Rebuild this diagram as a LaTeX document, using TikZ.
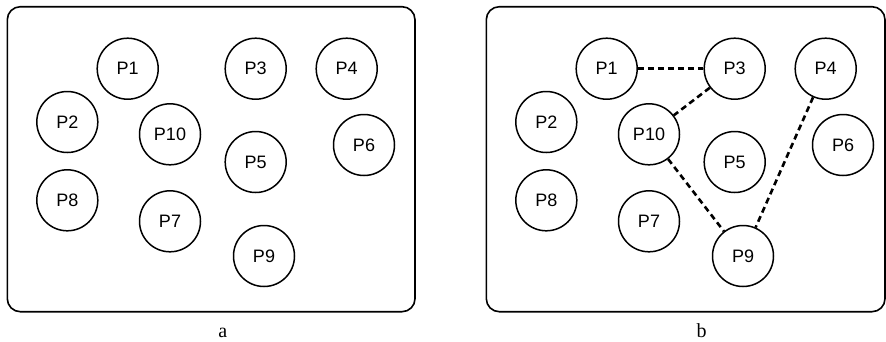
\documentclass[tikz,border=0pt]{standalone}
\usepackage{fontspec}
\setmainfont{Liberation Serif}
\newfontfamily\procfont{Liberation Sans}
\usetikzlibrary{positioning}

\begin{document}
\begin{tikzpicture}
		[x=1pt, y=-1pt,
		frame/.style = {draw, line width=1.6pt, rounded corners=13pt},
		proc/.style = {circle, draw, line width=1.5pt, minimum size=61pt, inner sep=0pt, font=\procfont\fontsize{18}{18}\selectfont},
		link/.style = {line width=2.6pt, dash pattern=on 6pt off 4pt},
		caption/.style = {anchor=base, inner sep=0pt, font=\fontsize{20}{20}\selectfont}
		]
		\useasboundingbox (0,0) rectangle (886,341);
		
		% both panels hold the same processes
		\foreach \pan/\dx/\rgt in {a/0/415, b/479/406} {
			\begin{scope}[xshift=\dx pt, name prefix=\pan-]
				\draw[frame] (7.3,6.7) rectangle (\rgt,311.7);
				\node[proc] (P1) at (127.7,68.7) {P1};
				\node[proc] (P3) at (255.7,68.7) {P3};
				\node[proc] (P4) at (346.7,68.7) {P4};
				\node[proc] (P2) at (67.3,122) {P2};
				\node[proc] (P10) at (170,134.3) {P10};
				\node[proc] (P5) at (255.7,162) {P5};
				\node[proc] (P6) at (364,145) {P6};
				\node[proc] (P8) at (67.3,200.3) {P8};
				\node[proc] (P7) at (170,221.3) {P7};
				\node[proc] (P9) at (264,256) {P9};
				\node[caption] (cap) at (222.7,337.5) {\pan};
			\end{scope}
		}
		
		% links of panel b
		\draw[link] (b-P1) -- (b-P3);
		\draw[link] (b-P3) -- (b-P10);
		\draw[link] (b-P10) -- (b-P9);
		\draw[link] (b-P4) -- (b-P9);
	\end{tikzpicture}
\end{document}
